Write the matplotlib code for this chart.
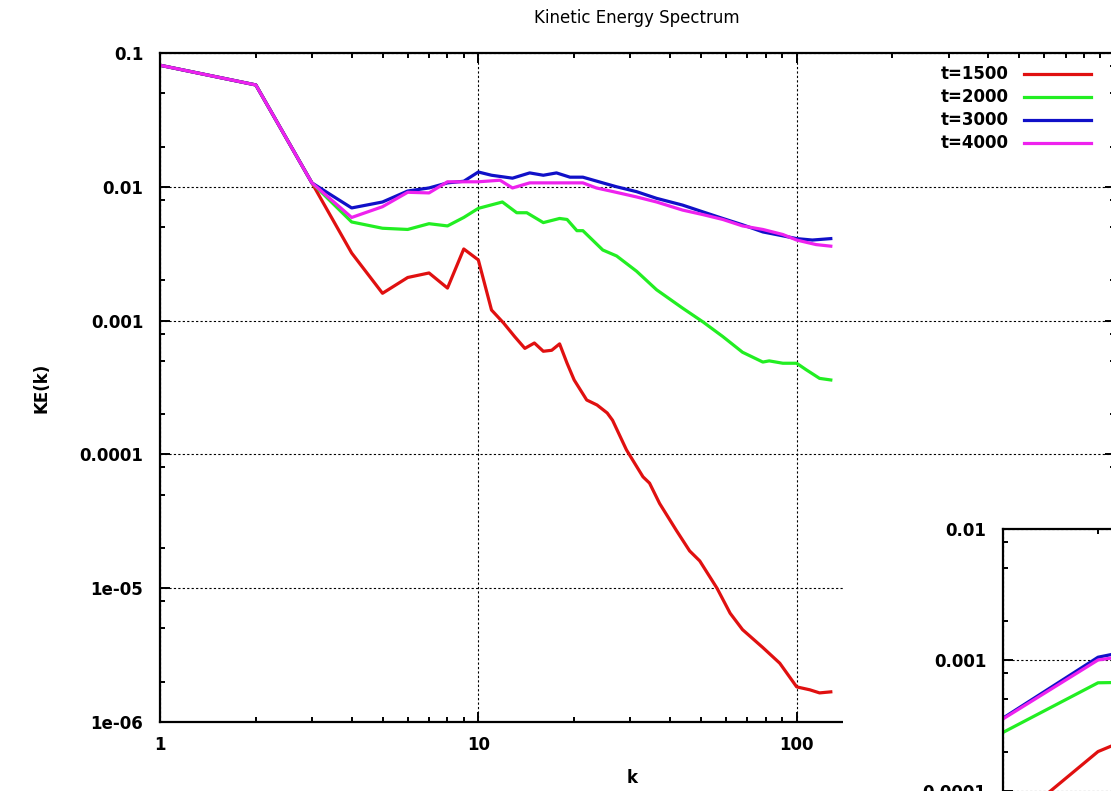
import matplotlib.pyplot as plt
import matplotlib.ticker as mticker
from matplotlib.patches import Rectangle

# Kinetic energy spectra
k_1500 = [1, 2, 3, 4, 5, 6, 7, 8, 9, 10, 11, 12, 13, 14, 15, 16, 17, 18, 19, 20,
          21.9, 23.6, 25.4, 26.4, 29.2, 32.9, 34.5, 37.1, 41.9, 46.1, 49.6, 56.2,
          61.8, 67.6, 78.3, 88.5, 100, 110, 118, 128]
ke_1500 = [0.081, 0.0577, 0.0107, 0.0032, 0.0016, 0.0021, 0.00227, 0.00175, 0.00343,
           0.00284, 0.0012, 0.00096, 0.00076, 0.00062, 0.00068, 0.00059, 0.0006,
           0.00067, 0.00048, 0.00036, 0.000255, 0.000234, 0.000204, 0.00018,
           0.000108, 6.8e-5, 6.1e-5, 4.3e-5, 2.7e-5, 1.9e-5, 1.6e-5, 1.0e-5,
           6.5e-6, 4.9e-6, 3.6e-6, 2.75e-6, 1.83e-6, 1.74e-6, 1.65e-6, 1.68e-6]

k_2000 = [1, 2, 3, 4, 5, 6, 7, 8, 9, 10, 11.9, 13.2, 14.2, 16, 18, 19, 20.4, 21.3,
          24.6, 27.2, 31.4, 36.3, 43.8, 50.7, 58.6, 67.6, 78.3, 82, 90.5, 100,
          107, 118, 128]
ke_2000 = [0.081, 0.0577, 0.0107, 0.00546, 0.0049, 0.0048, 0.0053, 0.0051, 0.0059,
           0.0069, 0.0077, 0.0064, 0.0064, 0.0054, 0.0058, 0.0057, 0.0047, 0.0047,
           0.00337, 0.00304, 0.00234, 0.0017, 0.00124, 0.00098, 0.00076, 0.00058,
           0.00049, 0.0005, 0.00048, 0.00048, 0.00043, 0.00037, 0.00036]

k_3000 = [1, 2, 3, 4, 5, 6, 7, 8, 9, 10, 11, 12.8, 14.5, 16, 17.6, 19.4, 21.3,
          24.6, 27.2, 31.4, 36.3, 43.8, 50.7, 58.6, 67.6, 78.3, 90.5, 100, 112, 128]
ke_3000 = [0.081, 0.0577, 0.0107, 0.00695, 0.0077, 0.0093, 0.0098, 0.0107, 0.011,
           0.0129, 0.0122, 0.0116, 0.0127, 0.0122, 0.0127, 0.0118, 0.0118, 0.0107,
           0.0100, 0.0092, 0.0082, 0.0073, 0.0065, 0.0058, 0.0052, 0.0046, 0.0043,
           0.0041, 0.0040, 0.0041]

k_4000 = [1, 2, 3, 4, 5, 6, 7, 8, 9, 10, 11.7, 12.8, 14.5, 16.7, 21.3, 23.5, 26,
          31.4, 36.3, 43.8, 50.7, 58.6, 67.6, 78.3, 90.5, 100, 115, 128]
ke_4000 = [0.081, 0.0577, 0.0107, 0.0059, 0.0071, 0.0091, 0.009, 0.0109, 0.0109,
           0.0109, 0.0112, 0.0098, 0.0107, 0.0107, 0.0107, 0.0098, 0.0093, 0.0084,
           0.0077, 0.0067, 0.0062, 0.0057, 0.0051, 0.0048, 0.0044, 0.004, 0.0037,
           0.0036]

# inset, only its left edge is visible
k_inset = [1, 2, 3]
inset_1500 = [5.0e-5, 2.0e-4, 3.0e-4]
inset_2000 = [2.8e-4, 6.7e-4, 6.8e-4]
inset_3000 = [3.6e-4, 1.05e-3, 1.28e-3]
inset_4000 = [3.55e-4, 1.0e-3, 1.15e-3]

labels = ['t=1500', 't=2000', 't=3000', 't=4000']
colors = ['#e01010', '#22ee22', '#1010c8', '#ee22ee']
main_xticks = [1, 10, 100]

W, H = 1111, 791
fig = plt.figure(figsize=(W / 100, H / 100), dpi=100)


def box(l, t, r, b):
    return [l / W, (H - b) / H, (r - l) / W, (b - t) / H]


def style_axes(ax):
    ax.set_xscale('log')
    ax.set_yscale('log')
    for s in ax.spines.values():
        s.set_linewidth(1.6)
    ax.tick_params(which='both', direction='in', top=True, right=True, width=1.4,
                   labelsize=12)
    ax.tick_params(axis='x', pad=10)
    ax.tick_params(axis='y', pad=12)
    ax.tick_params(which='major', length=7)
    ax.tick_params(which='minor', length=3.5)
    ax.yaxis.set_minor_locator(mticker.LogLocator(base=10, subs=(2, 5, 8)))
    ax.xaxis.set_minor_locator(mticker.LogLocator(base=10, subs=range(2, 10)))
    fmt = mticker.FuncFormatter(lambda v, p: '%g' % v)
    ax.xaxis.set_major_formatter(fmt)
    ax.yaxis.set_major_formatter(fmt)
    ax.xaxis.set_minor_formatter(mticker.NullFormatter())
    ax.yaxis.set_minor_formatter(mticker.NullFormatter())
    ax.grid(True, which='major', color='black', linestyle=(0, (2, 2)), linewidth=0.8)


# main plot
ax = fig.add_axes(box(160, 53, 1115, 722))
ax.plot(k_1500, ke_1500, color=colors[0], lw=2.3, label=labels[0])
ax.plot(k_2000, ke_2000, color=colors[1], lw=2.3, label=labels[1])
ax.plot(k_3000, ke_3000, color=colors[2], lw=2.3, label=labels[2])
ax.plot(k_4000, ke_4000, color=colors[3], lw=2.3, label=labels[3])
ax.set_xlim(1, 1000)
ax.set_ylim(1e-6, 0.1)
style_axes(ax)
# the 1000 label sits under the inset, so only label the visible decades
ax.set_xticks([1, 10, 100, 1000])
ax.set_xticklabels(['%g' % v for v in main_xticks] + [''])
for lab in ax.get_xticklabels() + ax.get_yticklabels():
    lab.set_fontweight('bold')

ax.legend(loc='upper right', bbox_to_anchor=(1099 / W, (H - 57) / H),
          bbox_transform=fig.transFigure, frameon=False, markerfirst=False,
          handlelength=4.0, handletextpad=0.9, labelspacing=0.3, borderpad=0,
          prop={'weight': 'bold', 'size': 12})

fig.text(637 / W, (H - 18) / H, 'Kinetic Energy Spectrum', ha='center', va='center',
         fontsize=12, fontweight='medium')
fig.text(42 / W, (H - 388) / H, 'KE(k)', rotation=90, ha='center', va='center',
         fontsize=12, fontweight='bold')
fig.text(632 / W, (H - 778) / H, 'k', ha='center', va='center', fontsize=12,
         fontweight='bold')

# the inset clears its own area
fig.add_artist(Rectangle((843 / W, 0), 1, (H - 475) / H, transform=fig.transFigure,
                         facecolor='white', edgecolor='none', zorder=1))

ax2 = fig.add_axes(box(1003, 529, 1950, 922))
ax2.set_zorder(2)
ax2.plot(k_inset, inset_1500, color=colors[0], lw=2.3)
ax2.plot(k_inset, inset_2000, color=colors[1], lw=2.3)
ax2.plot(k_inset, inset_3000, color=colors[2], lw=2.3)
ax2.plot(k_inset, inset_4000, color=colors[3], lw=2.3)
ax2.set_xlim(1, 1000)
ax2.set_ylim(1e-5, 1e-2)
style_axes(ax2)
# the inset's k labels fall below the picture
ax2.tick_params(axis='x', labelbottom=False)
for lab in ax2.get_yticklabels():
    lab.set_fontweight('bold')

fig.savefig('out.png', dpi=100)
